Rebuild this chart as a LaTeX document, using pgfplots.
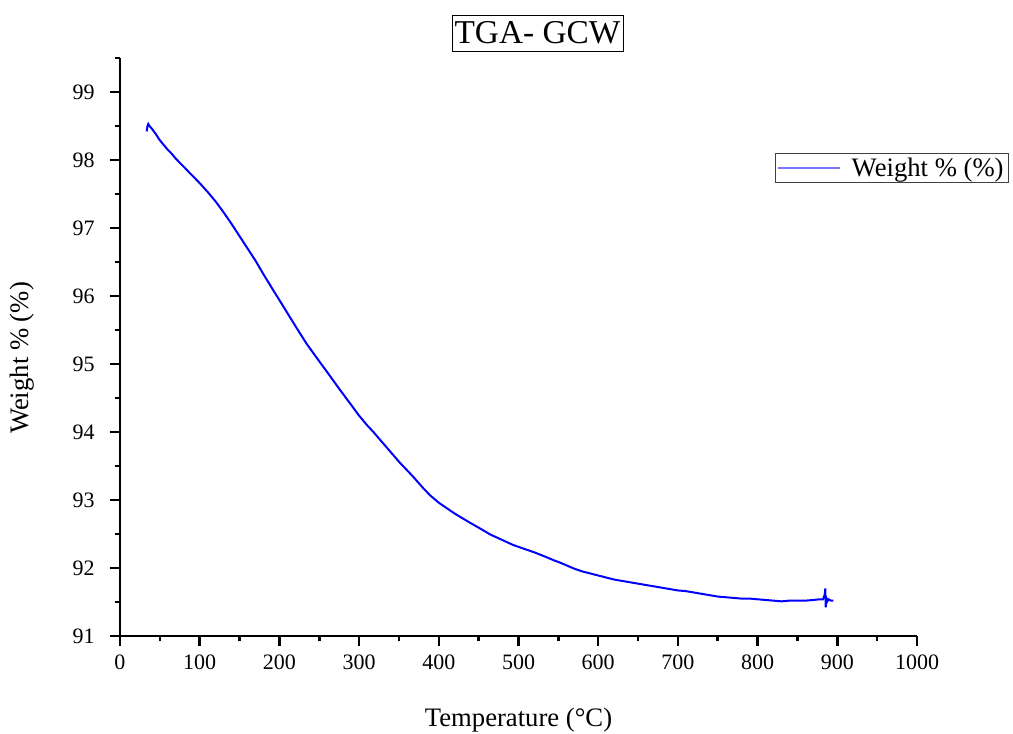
\documentclass[border=0pt]{standalone}
\usepackage{fontspec}
\setmainfont{Liberation Serif}
\usepackage{pgfplots}
\pgfplotsset{compat=1.18}
\definecolor{legblue}{RGB}{120,120,255}
\begin{document}
\begin{tikzpicture}
\begin{axis}[
  name=ax,
  scale only axis,
  width=597.75pt, height=433.5pt,
  xmin=0, xmax=1000, ymin=91, ymax=99.5,
  axis x line=bottom, axis y line=left,
  axis line style={line width=1.9pt, -},
  xtick={0,100,...,1000}, ytick={91,...,99},
  minor xtick={50,150,...,950}, minor ytick={91.5,92.5,...,99.5},
  tick align=outside,
  major tick length=7.5pt, minor tick length=4pt,
  every tick/.style={black, line width=1.9pt},
  /pgf/number format/assume math mode=true,
  /pgf/number format/1000 sep={},
  tick label style={font=\fontsize{16.5}{18}\selectfont},
  xticklabel style={yshift=-3pt},
  yticklabel style={xshift=-8pt},
  xlabel={Temperature (°C)},
  label style={font=\fontsize{20}{22}\selectfont},
  xlabel style={at={(axis description cs:0.5,0)}, anchor=center, yshift=-63pt},
  legend style={at={(axis cs:822,98.11)}, anchor=north west, draw=black!75, line width=0.8pt,
    font=\fontsize{20}{22}\selectfont, inner sep=1.5pt, row sep=0pt},
  legend image code/.code={\path[draw=none] (0pt,0pt) -- (53pt,0pt); \draw[legblue, line width=1.1pt] (0pt,0pt) -- (46pt,0pt);},
  clip=false,
]
\addplot[blue, line width=1.5pt] coordinates {
(33.5,98.42) (34.5,98.50) (35.5,98.53) (37,98.50) (40,98.46) (45,98.38) (50,98.29)
(55,98.22) (60,98.15) (65,98.09) (70,98.02) (75,97.96) (80,97.90) (85,97.84)
(90,97.78) (95,97.72) (100,97.66) (110,97.53) (120,97.39) (130,97.23) (140,97.06)
(150,96.88) (160,96.70) (170,96.52) (180,96.32) (192,96.09) (200,95.94) (210,95.75)
(220,95.56) (234,95.30) (250,95.04) (260,94.88) (276,94.62) (290,94.40) (300,94.24)
(310,94.10) (318,94.00) (326,93.89) (340,93.70) (351,93.55) (360,93.44) (368,93.34)
(380,93.18) (389,93.07) (400,92.96) (410,92.88) (420,92.80) (430,92.73) (440,92.66)
(452,92.58) (465,92.49) (480,92.41) (493,92.34) (510,92.27) (520,92.23) (535,92.16)
(545,92.11) (552,92.08) (560,92.04) (570,91.99) (580,91.95) (590,91.92) (600,91.89)
(610,91.86) (620,91.83) (630,91.81) (640,91.79) (650,91.77) (660,91.75) (670,91.73)
(680,91.71) (690,91.69) (700,91.67) (710,91.66) (720,91.64) (730,91.62) (740,91.60)
(750,91.58) (760,91.57) (770,91.56) (780,91.55) (790,91.55) (800,91.54) (810,91.53)
(820,91.52) (830,91.51) (840,91.52) (850,91.52) (860,91.52) (870,91.53) (878,91.54)
(882,91.54) (884,91.60) (885,91.70) (885.5,91.42) (886,91.58) (887,91.50) (889,91.54)
(892,91.52) (895,91.52)
};
\addlegendentry{Weight \% (\%)}
\end{axis}
\node[rotate=90, font=\fontsize{20}{22}\selectfont]
  at ([shift={(-73.5pt,208.5pt)}]ax.south west) {Weight \% (\%)};
\node[draw, line width=0.6pt, inner xsep=2pt, inner ysep=5pt, font=\fontsize{25}{27}\selectfont]
  at ([shift={(313.1pt,452.25pt)}]ax.south west) {TGA- GCW};
\pgfresetboundingbox
\path ([shift={(-90pt,-72.75pt)}]ax.south west) rectangle ([shift={(669.75pt,477pt)}]ax.south west);
\end{tikzpicture}
\end{document}
